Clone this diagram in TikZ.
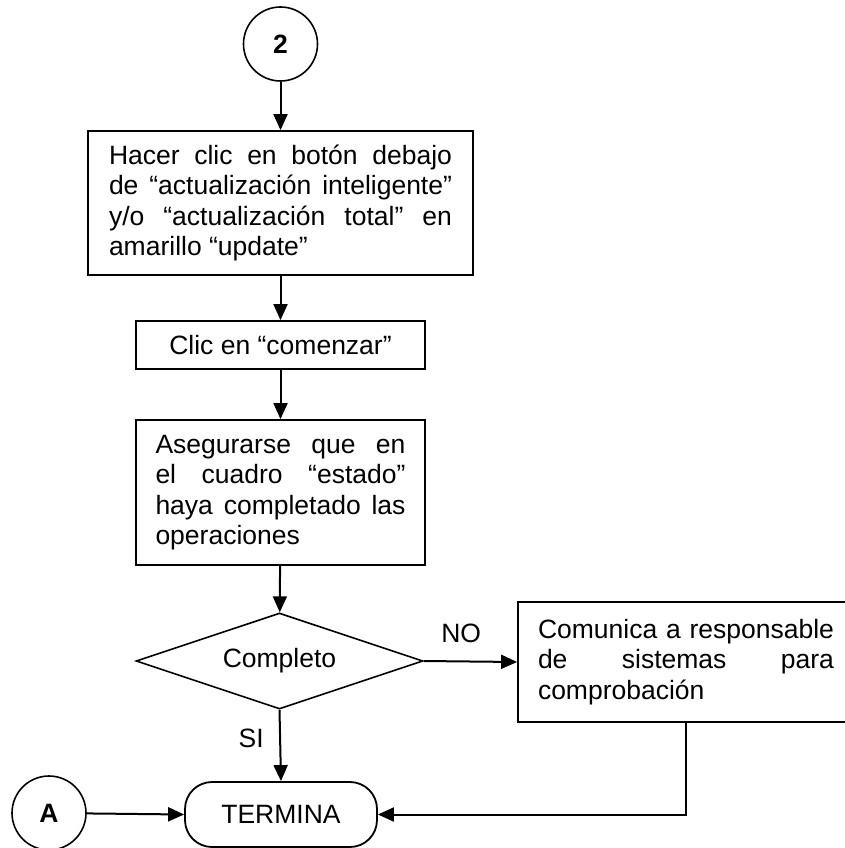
\documentclass[tikz,border=0pt]{standalone}
\usepackage{fontspec}
\setmainfont{Liberation Sans}
\usetikzlibrary{shapes.geometric,arrows.meta}
\hyphenpenalty=10000
\exhyphenpenalty=10000
\tikzset{
  every node/.style={font=\fontsize{26.5}{30.5}\selectfont},
  conn/.style={draw, circle, line width=1.6pt, minimum size=74pt, inner sep=0pt, font=\fontsize{26.5}{30.5}\selectfont\bfseries},
  stepbox/.style={draw, rectangle, line width=1.8pt, inner ysep=0pt},
  decision/.style={draw, diamond, aspect=3, line width=1.6pt, minimum width=287pt, minimum height=96pt, inner sep=0pt},
  terminal/.style={draw, rectangle, rounded corners=27pt, line width=1.8pt, minimum width=192pt, minimum height=65pt},
  arr/.style={-{Triangle[length=16pt,width=14pt]}, line width=2pt},
  line/.style={line width=2pt}
}
\begin{document}
\begin{tikzpicture}[x=1pt,y=-1pt]
\useasboundingbox (0,0) rectangle (845,848);

% Connector from previous page
\node[conn] (c2) at (280.5,44) {2};

% Steps
\node[stepbox, text width=343pt, inner xsep=21pt, minimum height=144pt, align=justify] (s1) at (280.5,203)
  {Hacer clic en botón debajo\linebreak de “actualización inteligente”\linebreak y/o “actualización total” en\linebreak amarillo “update”};
\node[stepbox, minimum width=289pt, minimum height=48pt] (s2) at (280.5,345) {Clic en “comenzar”};
\node[stepbox, text width=250pt, inner xsep=19.5pt, minimum height=145pt, align=justify] (s3) at (280.5,492.5)
  {Asegurarse que en\linebreak el cuadro “estado”\linebreak haya completado las\linebreak operaciones};

% Decision
\node[decision] (dec) at (279.5,661) {Completo};

% Notify
\node[stepbox, text width=296pt, inner xsep=20pt, minimum height=120pt, align=justify] (s4) at (686,662)
  {Comunica a responsable\linebreak de sistemas para\linebreak comprobación};

% End
\node[terminal] (term) at (281,814.5) {TERMINA};
\node[conn] (cA) at (49,813) {A};

% Flow
\draw[arr] (c2) -- (s1);
\draw[arr] (s1) -- (s2);
\draw[arr] (s2) -- (s3);
\draw[arr] (s3) -- (dec);
\draw[arr] (dec.east) -- (s4.west) node[pos=0.4, above=14pt] {NO};
\draw[arr] (dec.south) -- (term.north) node[pos=0.4, left=12pt] {SI};
\draw[arr] (cA) -- (term.west);
\draw[arr] (s4.south) |- (term.east);
\end{tikzpicture}
\end{document}
